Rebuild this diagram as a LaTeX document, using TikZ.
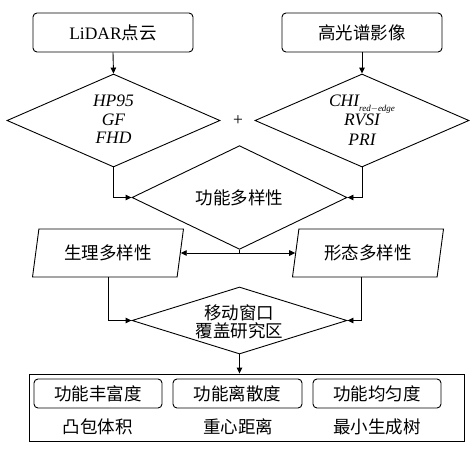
\documentclass[tikz,border=0pt]{standalone}
\usepackage{fontspec}
\setmainfont{Liberation Serif}
\newfontfamily\cjk{Noto Sans CJK SC}
\usetikzlibrary{shapes.geometric,arrows.meta}
\tikzset{
  base/.style={font=\fontsize{17.5}{20}\selectfont, line width=0.9pt},
  rbox/.style={base, draw, rectangle, rounded corners=4pt, inner sep=0pt},
  dia/.style={base, draw, diamond, inner sep=0pt, align=center},
  para/.style={base, draw, trapezium, trapezium left angle=76, trapezium right angle=104,
     trapezium stretches=true, inner sep=0pt},
  arr/.style={line width=0.9pt, -{Triangle[length=6pt,width=5.5pt]}},
  plain/.style={base, inner sep=0pt},
}
\begin{document}
\begin{tikzpicture}[x=1pt,y=-1pt]
\useasboundingbox (0,0) rectangle (475,456);
\node[rbox, minimum width=160pt, minimum height=39pt] (lidar) at (113,32.5) {LiDAR{\cjk 点云}};
\node[rbox, minimum width=160pt, minimum height=39pt] (hyper) at (362,32.5) {\cjk 高光谱影像};
\node[dia, minimum width=213pt, minimum height=93pt] (d1) at (113.5,120.5) {};
\node[plain, align=center] (d1t) at (113.5,119) {\itshape HP95\\[-1pt] \itshape GF\\[-2pt] \itshape FHD};
\node[dia, minimum width=214pt, minimum height=93pt] (d2) at (362,120.5) {};
\node[plain, align=center] (d2t) at (362,120) {\itshape CHI\raisebox{-5pt}{\fontsize{9}{9}\selectfont\itshape red$-$edge}\\[-1pt] \itshape RVSI\\[0pt] \itshape PRI};
\node[plain] (plus) at (238,121) {+};
\node[dia, minimum width=215pt, minimum height=69pt] (fd) at (239.5,197.5) {\cjk 功能多样性};
\node[para, minimum width=152pt, minimum height=48pt] (p1) at (108,253) {\cjk 生理多样性};
\node[para, minimum width=152pt, minimum height=48pt] (p2) at (368,253) {\cjk 形态多样性};
\node[dia, minimum width=215pt, minimum height=67pt] (mw) at (239.5,320.5) {};
\node[plain, align=center] (mwt) at (239.5,322) {\cjk 移动窗口\\[-2pt]\cjk 覆盖研究区};
\node[base, draw, rectangle, inner sep=0pt, minimum width=435pt, minimum height=67pt] (big) at (246.5,407.5) {};
\node[rbox, minimum width=128pt, minimum height=29pt] (r1) at (98,393.5) {\cjk 功能丰富度};
\node[rbox, minimum width=129pt, minimum height=29pt] (r2) at (237.5,393.5) {\cjk 功能离散度};
\node[rbox, minimum width=128pt, minimum height=29pt] (r3) at (377,393.5) {\cjk 功能均匀度};
\node[plain] (t1) at (98,427) {\cjk 凸包体积};
\node[plain] (t2) at (238,427) {\cjk 重心距离};
\node[plain] (t3) at (377,427) {\cjk 最小生成树};
\draw[arr] (lidar.south) -- (d1.north);
\draw[arr] (hyper.south) -- (d2.north);
\draw[arr] (d1.south) |- (fd.west);
\draw[arr] (d2.south) |- (fd.east);
\draw[arr] (fd.south) |- (p1.east);
\draw[arr] (fd.south) |- (p2.west);
\draw[arr] (p1.south) |- (mw.west);
\draw[arr] ([xshift=-7pt]p2.south) |- (mw.east);
\draw[arr] (mw.south) -- (mw.south |- big.north);
\end{tikzpicture}
\end{document}
